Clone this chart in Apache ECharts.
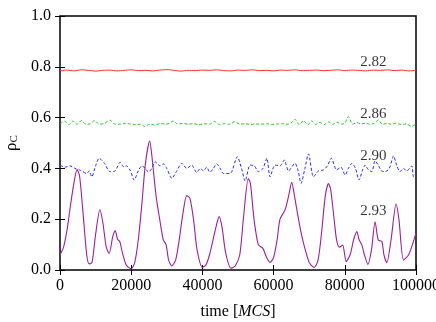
<!DOCTYPE html>
<html lang="en" style="height: 100%">
<head>
<meta charset="UTF-8">
<script src="https://cdn.jsdelivr.net/npm/echarts@6/dist/echarts.min.js"></script>
</head>
<body style="height: 100%; margin: 0; background: #fff">
<div id="container" style="width: 436px; height: 322px"></div>
<script>
// [time, rho_C]
var red282 = [
  [0, 0.785], [2000, 0.787], [4000, 0.784], [6000, 0.788], [8000, 0.786], [10000, 0.783],
  [12000, 0.786], [14000, 0.787], [16000, 0.784], [18000, 0.786], [20000, 0.788], [22000, 0.785],
  [24000, 0.786], [26000, 0.784], [28000, 0.787], [30000, 0.789], [32000, 0.786], [34000, 0.783],
  [36000, 0.786], [38000, 0.785], [40000, 0.787], [42000, 0.786], [44000, 0.788], [46000, 0.785],
  [48000, 0.784], [50000, 0.787], [52000, 0.786], [54000, 0.788], [56000, 0.785], [58000, 0.786],
  [60000, 0.784], [62000, 0.787], [64000, 0.786], [66000, 0.788], [68000, 0.785], [70000, 0.786],
  [72000, 0.787], [74000, 0.785], [76000, 0.786], [78000, 0.788], [80000, 0.785], [82000, 0.787],
  [84000, 0.786], [86000, 0.784], [88000, 0.787], [90000, 0.786], [92000, 0.788], [94000, 0.785],
  [96000, 0.787], [98000, 0.784], [100000, 0.786]
];
var green286 = [
  [0, 0.575], [1300, 0.586], [2500, 0.572], [3600, 0.586], [4800, 0.574], [6000, 0.588],
  [7300, 0.573], [8500, 0.576], [9700, 0.588], [11000, 0.574], [12500, 0.577], [14000, 0.59],
  [15300, 0.575], [16800, 0.574], [18300, 0.577], [19800, 0.575], [21300, 0.572], [22600, 0.574],
  [23800, 0.565], [25200, 0.574], [26700, 0.571], [28200, 0.577], [29600, 0.574], [30800, 0.578],
  [31800, 0.587], [33000, 0.575], [34500, 0.577], [36000, 0.574], [37500, 0.576], [39000, 0.572],
  [40500, 0.576], [42000, 0.574], [43400, 0.585], [44800, 0.573], [46200, 0.576], [47700, 0.574],
  [49100, 0.584], [50500, 0.574], [52000, 0.576], [53500, 0.573], [55000, 0.575], [56500, 0.574],
  [58000, 0.576], [59500, 0.573], [61000, 0.575], [62500, 0.576], [64000, 0.574], [65200, 0.582],
  [66000, 0.594], [67200, 0.572], [68400, 0.588], [69600, 0.571], [70700, 0.587], [71900, 0.573],
  [73000, 0.581], [74200, 0.572], [75400, 0.583], [76600, 0.573], [77800, 0.582], [79000, 0.574],
  [80000, 0.578], [81000, 0.604], [82200, 0.574], [83400, 0.58], [84600, 0.575], [85800, 0.578],
  [87000, 0.574], [88200, 0.577], [89400, 0.59], [90600, 0.573], [91800, 0.577], [93000, 0.574],
  [94400, 0.578], [95800, 0.573], [97200, 0.575], [98800, 0.565], [100000, 0.575]
];
var blue290 = [
  [0, 0.413], [1400, 0.405], [2800, 0.41], [4200, 0.4], [5800, 0.392], [7500, 0.38],
  [8200, 0.39], [8900, 0.367], [10000, 0.41], [11000, 0.44], [12500, 0.42], [14000, 0.387],
  [15500, 0.39], [16900, 0.424], [18000, 0.405], [18700, 0.41], [19800, 0.39], [20800, 0.354],
  [22000, 0.39], [23000, 0.41], [24000, 0.4], [24800, 0.385], [25800, 0.4], [26700, 0.426],
  [28100, 0.41], [29000, 0.418], [30000, 0.4], [31400, 0.361], [32800, 0.39], [34200, 0.42],
  [35600, 0.4], [37000, 0.413], [38400, 0.384], [39400, 0.4], [40300, 0.39], [41200, 0.405],
  [42100, 0.385], [43100, 0.4], [44000, 0.418], [45000, 0.4], [45900, 0.38], [47800, 0.38],
  [49800, 0.446], [51000, 0.4], [52000, 0.35], [53400, 0.413], [54600, 0.41], [55700, 0.387],
  [57000, 0.4], [58100, 0.44], [59000, 0.367], [60400, 0.413], [61800, 0.41], [63000, 0.433],
  [64200, 0.39], [66000, 0.42], [66900, 0.39], [67700, 0.341], [68800, 0.4], [69800, 0.457],
  [71200, 0.367], [72600, 0.39], [74000, 0.394], [75100, 0.41], [76200, 0.44], [77700, 0.394],
  [78900, 0.405], [80100, 0.374], [81000, 0.4], [82000, 0.42], [83000, 0.4], [84000, 0.354],
  [84900, 0.39], [85700, 0.413], [86600, 0.395], [87600, 0.387], [88500, 0.43], [89400, 0.413],
  [90300, 0.39], [91300, 0.387], [92500, 0.4], [93700, 0.449], [94600, 0.41], [95500, 0.387],
  [96500, 0.4], [97400, 0.39], [98800, 0.41], [99300, 0.367], [100000, 0.38]
];
var purple293 = [
  [0, 0.06], [1000, 0.09], [2000, 0.16], [3000, 0.26], [4000, 0.35], [4800, 0.395],
  [5500, 0.37], [6500, 0.22], [7500, 0.06], [8200, 0.024], [9000, 0.03], [10000, 0.14],
  [11200, 0.237], [12000, 0.19], [13000, 0.09], [13800, 0.065], [14800, 0.13], [15500, 0.155],
  [16200, 0.12], [16800, 0.112], [17500, 0.07], [18600, 0.02], [20000, 0.005], [21000, 0.03],
  [22000, 0.12], [23000, 0.26], [24000, 0.42], [25200, 0.508], [25800, 0.45], [27000, 0.29],
  [28000, 0.2], [29000, 0.12], [29800, 0.1], [30500, 0.04], [31400, 0.016], [32500, 0.04],
  [33500, 0.12], [34500, 0.22], [35600, 0.293], [36500, 0.282], [37500, 0.2], [38500, 0.08],
  [40000, 0.01], [41000, 0.02], [42000, 0.06], [43000, 0.12], [44000, 0.18], [44700, 0.21],
  [45500, 0.17], [46500, 0.07], [48000, 0.007], [49200, 0.016], [50500, 0.06], [51500, 0.2],
  [52900, 0.36], [53500, 0.34], [54500, 0.2], [55700, 0.1], [57000, 0.085], [58000, 0.05],
  [59000, 0.03], [60000, 0.05], [61000, 0.12], [61800, 0.2], [63200, 0.236], [64200, 0.29],
  [65100, 0.345], [66000, 0.28], [67400, 0.17], [68500, 0.1], [70000, 0.03], [71400, 0.01],
  [72500, 0.04], [73500, 0.15], [74500, 0.29], [75400, 0.34], [76000, 0.32], [77000, 0.2],
  [77700, 0.118], [78500, 0.09], [79400, 0.098], [80400, 0.033], [81500, 0.06], [82500, 0.12],
  [83400, 0.151], [84000, 0.12], [84800, 0.098], [85500, 0.06], [86500, 0.022], [87500, 0.08],
  [88500, 0.19], [89400, 0.118], [90400, 0.112], [91000, 0.06], [91800, 0.029], [93000, 0.12],
  [94400, 0.26], [95200, 0.2], [96500, 0.039], [97900, 0.059], [99000, 0.1], [100000, 0.145]
];
// curve labels: [time, rho, text]
var curveLabels = [
  [88000, 0.82, '2.82'],
  [88000, 0.614, '2.86'],
  [88000, 0.447, '2.90'],
  [88000, 0.232, '2.93']
];

var serif = "'Liberation Serif', 'DejaVu Serif', 'Times New Roman', serif";
var dom = document.getElementById('container');
var myChart = echarts.init(dom, null, {renderer: 'canvas'});

function lineSeries(data, color, dashed, width) {
  return {
    type: 'line',
    data: data,
    showSymbol: false,
    smooth: 0.25,
    animation: false,
    lineStyle: {color: color, width: width, type: dashed ? [3, 2] : 'solid'},
    z: 3
  };
}

var mirrorAxis = {
  axisLine: {show: false},
  axisTick: {inside: true, length: 5, lineStyle: {color: '#000', width: 1}},
  axisLabel: {show: false},
  splitLine: {show: false}
};

var option = {
  backgroundColor: '#fff',
  animation: false,
  grid: {left: 60, right: 20, top: 16, bottom: 52, outerBoundsMode: 'none', containLabel: false,
    show: true, borderColor: '#000', borderWidth: 1.5},
  xAxis: [
    {
      type: 'value', min: 0, max: 100000, interval: 20000,
      name: 'time [{i|MCS}]',
      nameLocation: 'middle', nameGap: 34,
      nameTextStyle: {color: '#000', fontFamily: serif, fontSize: 16,
        rich: {i: {fontStyle: 'italic', fontFamily: serif, fontSize: 16, color: '#000'}}},
      axisLine: {show: false},
      axisTick: {inside: true, length: 5, lineStyle: {color: '#000', width: 1}},
      axisLabel: {color: '#000', fontFamily: serif, fontSize: 16, margin: 8,
        formatter: function (v) { return String(v); }},
      splitLine: {show: false}
    },
    Object.assign({type: 'value', position: 'top', min: 0, max: 100000, interval: 20000}, mirrorAxis)
  ],
  yAxis: [
    {
      type: 'value', min: 0, max: 1, interval: 0.2,
      name: '{r|ρ}{s|C}',
      nameLocation: 'middle', nameGap: 34, nameRotate: 90,
      nameTextStyle: {
        rich: {
          r: {fontFamily: serif, fontSize: 17, color: '#000'},
          s: {fontFamily: serif, fontSize: 11, color: '#000', verticalAlign: 'bottom', padding: [6, 0, 0, 0]}
        }
      },
      axisLine: {show: false},
      axisTick: {inside: true, length: 5, lineStyle: {color: '#000', width: 1}},
      axisLabel: {color: '#000', fontFamily: serif, fontSize: 16, margin: 9,
        formatter: function (v) { return v.toFixed(1); }},
      splitLine: {show: false}
    },
    Object.assign({type: 'value', position: 'right', min: 0, max: 1, interval: 0.2}, mirrorAxis)
  ],
  series: [
    lineSeries(red282, '#ff2a2a', false, 1),
    lineSeries(green286, '#22cc22', true, 1),
    lineSeries(blue290, '#2a2aff', true, 1),
    lineSeries(purple293, '#9a1f9a', false, 1.1),
    {
      type: 'scatter',
      data: curveLabels,
      symbolSize: 0,
      animation: false,
      label: {
        show: true, position: 'inside', color: '#000', fontFamily: serif, fontSize: 15,
        formatter: function (p) { return p.value[2]; }
      },
      z: 5
    }
  ]
};
myChart.setOption(option);
</script>
</body>
</html>
